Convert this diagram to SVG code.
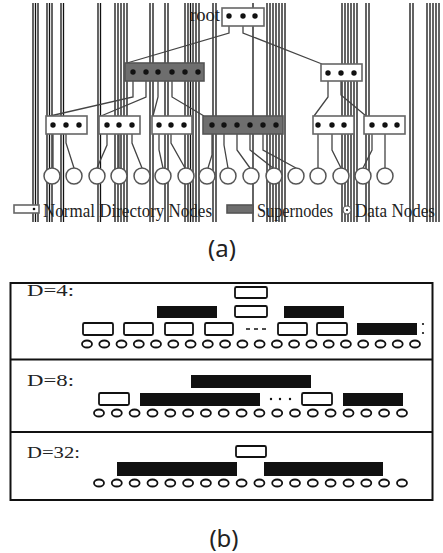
<svg xmlns="http://www.w3.org/2000/svg" width="443" height="553" viewBox="0 0 443 553">
<style>
.stripe{stroke:#111;stroke-width:1.3}
.nn{fill:#fff;stroke:#666;stroke-width:1.6}
.sn{fill:#6e6e6e;stroke:#555;stroke-width:1.6}
.dot{fill:#111}
.dn{fill:#fff;stroke:#555;stroke-width:1.5}
.conn{fill:none;stroke:#444;stroke-width:1.3}
.serif{font-family:"Liberation Serif","Times New Roman",serif;fill:#222}
.cap{font-family:"Noto Sans","DejaVu Sans",sans-serif;font-size:24px;fill:#222}
.wb{fill:#fff;stroke:#111;stroke-width:1.8}
.bb{fill:#111}
.el{fill:none;stroke:#111;stroke-width:1.8}
.frame{fill:none;stroke:#111;stroke-width:2}
</style>
<rect width="443" height="553" fill="#fff"/>
<g id="scan-stripes">
<path class="stripe" d="M33,3V222M35.5,3V222M38,3V222M47,3V222M49.5,3V222M52,3V222M61,3V222M63.5,3V222M98,3V222M100.5,3V222M115,3V222M118,3V222M121,3V222M124,3V222M127,3V222M150,3V222M153,3V222M165,3V222M168,3V222M185,3V222M188,3V222M190.5,3V222M193,3V222M196,3V222M199,3V222M213,3V222M216,3V222M253,3V222M267,3V222M270,3V222M273,3V222M276,3V222M279,3V222M282,3V222M285,3V222M342,3V222M345,3V222M348,3V222M351,3V222M354,3V222M357,3V222M366,3V222M369,3V222M410,3V222M413,3V222M427,3V222M430,3V222M433,3V222M436,3V222M439,3V222"/>
</g>
<g id="connectors">
<path class="conn" d="M229,16V33L127,63M243,16V33L322,64"/>
<path class="conn" d="M133,72V97L50,116M146,72V97L101,116M158,72V97L153,116M172,72V97L204,116"/>
<path class="conn" d="M328,73V97L314,116M341,73V95L366,116"/>
<path class="conn" d="M53,125V168M66,125V143L74,168"/>
<path class="conn" d="M107,125V145L97,168M119,125V168M132,125V143L142,168"/>
<path class="conn" d="M159,125V150L163,168M171,125V143L185,168"/>
<path class="conn" d="M212,125V155L208,168M224,125V145L228,168M237,125V150L250,168M250,125V150L273,168M263,125V150L296,168"/>
<path class="conn" d="M318,125V168M332,125V150L341,168"/>
<path class="conn" d="M372,125V150L363,168M385,125V168"/>
</g>
<g id="root">
<text class="serif" x="190" y="21" font-size="19" textLength="30" lengthAdjust="spacingAndGlyphs">root</text>
<rect class="nn" x="222" y="8" width="42" height="18"/>
<circle class="dot" cx="229" cy="16" r="2.7"/><circle class="dot" cx="243" cy="16" r="2.7"/><circle class="dot" cx="255" cy="16" r="2.7"/>
</g>
<g id="super1">
<rect class="sn" x="125" y="63" width="79" height="18"/>
<circle class="dot" cx="133" cy="72" r="2.7"/><circle class="dot" cx="146" cy="72" r="2.7"/><circle class="dot" cx="158" cy="72" r="2.7"/><circle class="dot" cx="172" cy="72" r="2.7"/><circle class="dot" cx="185" cy="72" r="2.7"/><circle class="dot" cx="198" cy="72" r="2.7"/>
</g>
<g id="dir-right">
<rect class="nn" x="321" y="64" width="41" height="17"/>
<circle class="dot" cx="328" cy="73" r="2.7"/><circle class="dot" cx="341" cy="73" r="2.7"/><circle class="dot" cx="354" cy="73" r="2.7"/>
</g>
<g id="dir1">
<rect class="nn" x="46" y="116" width="41" height="18"/>
<circle class="dot" cx="53" cy="125" r="2.7"/><circle class="dot" cx="66" cy="125" r="2.7"/><circle class="dot" cx="79" cy="125" r="2.7"/>
</g>
<g id="dir2">
<rect class="nn" x="99" y="116" width="41" height="18"/>
<circle class="dot" cx="107" cy="125" r="2.7"/><circle class="dot" cx="119" cy="125" r="2.7"/><circle class="dot" cx="132" cy="125" r="2.7"/>
</g>
<g id="dir3">
<rect class="nn" x="152" y="116" width="40" height="18"/>
<circle class="dot" cx="159" cy="125" r="2.7"/><circle class="dot" cx="171" cy="125" r="2.7"/><circle class="dot" cx="184" cy="125" r="2.7"/>
</g>
<g id="super2">
<rect class="sn" x="203" y="116" width="80" height="18"/>
<circle class="dot" cx="212" cy="125" r="2.7"/><circle class="dot" cx="224" cy="125" r="2.7"/><circle class="dot" cx="237" cy="125" r="2.7"/><circle class="dot" cx="250" cy="125" r="2.7"/><circle class="dot" cx="263" cy="125" r="2.7"/><circle class="dot" cx="276" cy="125" r="2.7"/>
</g>
<g id="dir5">
<rect class="nn" x="313" y="116" width="41" height="18"/>
<circle class="dot" cx="318" cy="125" r="2.7"/><circle class="dot" cx="332" cy="125" r="2.7"/><circle class="dot" cx="344" cy="125" r="2.7"/>
</g>
<g id="dir6">
<rect class="nn" x="364" y="116" width="41" height="18"/>
<circle class="dot" cx="372" cy="125" r="2.7"/><circle class="dot" cx="385" cy="125" r="2.7"/><circle class="dot" cx="397" cy="125" r="2.7"/>
</g>
<g id="data-nodes">
<circle class="dn" cx="52" cy="176" r="8"/><circle class="dn" cx="74" cy="176" r="8"/><circle class="dn" cx="97" cy="176" r="8"/><circle class="dn" cx="119" cy="176" r="8"/><circle class="dn" cx="142" cy="176" r="8"/><circle class="dn" cx="163" cy="176" r="8"/><circle class="dn" cx="186" cy="176" r="8"/><circle class="dn" cx="207" cy="176" r="8"/><circle class="dn" cx="228" cy="176" r="8"/><circle class="dn" cx="251" cy="176" r="8"/><circle class="dn" cx="274" cy="176" r="8"/><circle class="dn" cx="296" cy="176" r="8"/><circle class="dn" cx="318" cy="176" r="8"/><circle class="dn" cx="341" cy="176" r="8"/><circle class="dn" cx="363" cy="176" r="8"/><circle class="dn" cx="385" cy="176" r="8"/>
</g>
<g id="legend">
<rect class="nn" x="14" y="205" width="25" height="8" stroke-width="1.3"/>
<circle class="dot" cx="34" cy="209" r="1.3"/>
<text class="serif" x="43" y="217" font-size="19" textLength="169" lengthAdjust="spacingAndGlyphs">Normal Directory Nodes</text>
<rect class="sn" x="227" y="205" width="26" height="8" stroke-width="1.3"/>
<text class="serif" x="257" y="217" font-size="19" textLength="76" lengthAdjust="spacingAndGlyphs">Supernodes</text>
<circle cx="347" cy="210" r="4" fill="#fff" stroke="#555" stroke-width="1.2"/>
<circle class="dot" cx="347" cy="210" r="1"/>
<text class="serif" x="355" y="217" font-size="18" textLength="80" lengthAdjust="spacingAndGlyphs">Data Nodes</text>
</g>
<text class="cap" x="222" y="257" text-anchor="middle">(a)</text>
<g id="panel-frame">
<rect class="frame" x="10.5" y="283" width="422" height="217"/>
<path class="frame" d="M10.5,359.5H432.5M10.5,432H432.5"/>
</g>
<g id="d4">
<text class="serif" x="27" y="296" font-size="17" textLength="47" lengthAdjust="spacingAndGlyphs">D=4:</text>
<rect class="wb" x="235" y="287" width="32" height="11" rx="1.5"/>
<rect class="wb" x="235" y="306" width="32" height="11" rx="1.5"/>
<rect class="bb" x="157" y="306" width="60" height="12"/>
<rect class="bb" x="284" y="306" width="60" height="12"/>
<rect class="wb" x="83" y="323" width="30" height="12" rx="1.5"/>
<rect class="wb" x="124" y="323" width="29" height="12" rx="1.5"/>
<rect class="wb" x="165" y="323" width="28" height="12" rx="1.5"/>
<rect class="wb" x="205" y="323" width="28" height="12" rx="1.5"/>
<path d="M246,329H267" stroke="#111" stroke-width="1.6" stroke-dasharray="4,4"/>
<rect class="wb" x="278" y="323" width="29" height="12" rx="1.5"/>
<rect class="wb" x="317" y="323" width="30" height="12" rx="1.5"/>
<rect class="bb" x="357" y="323" width="60" height="12"/>
<circle class="dot" cx="423" cy="324" r="1.1"/><circle class="dot" cx="423" cy="333" r="1.1"/>
<g class="el">
<ellipse cx="87" cy="344" rx="5" ry="3.5"/><ellipse cx="104.3" cy="344" rx="5" ry="3.5"/><ellipse cx="121.5" cy="344" rx="5" ry="3.5"/><ellipse cx="138.8" cy="344" rx="5" ry="3.5"/><ellipse cx="156" cy="344" rx="5" ry="3.5"/><ellipse cx="173.3" cy="344" rx="5" ry="3.5"/><ellipse cx="190.6" cy="344" rx="5" ry="3.5"/><ellipse cx="207.8" cy="344" rx="5" ry="3.5"/><ellipse cx="225.1" cy="344" rx="5" ry="3.5"/><ellipse cx="242.4" cy="344" rx="5" ry="3.5"/><ellipse cx="259.6" cy="344" rx="5" ry="3.5"/><ellipse cx="276.9" cy="344" rx="5" ry="3.5"/><ellipse cx="294.1" cy="344" rx="5" ry="3.5"/><ellipse cx="311.4" cy="344" rx="5" ry="3.5"/><ellipse cx="328.7" cy="344" rx="5" ry="3.5"/><ellipse cx="345.9" cy="344" rx="5" ry="3.5"/><ellipse cx="363.2" cy="344" rx="5" ry="3.5"/><ellipse cx="380.5" cy="344" rx="5" ry="3.5"/><ellipse cx="397.7" cy="344" rx="5" ry="3.5"/><ellipse cx="415" cy="344" rx="5" ry="3.5"/>
</g>
</g>
<g id="d8">
<text class="serif" x="27" y="386" font-size="17" textLength="47" lengthAdjust="spacingAndGlyphs">D=8:</text>
<rect class="bb" x="191" y="375" width="120" height="13"/>
<rect class="wb" x="99" y="393" width="30" height="12" rx="1.5"/>
<rect class="bb" x="140" y="393" width="120" height="13"/>
<circle class="dot" cx="271" cy="399" r="1.2"/><circle class="dot" cx="280" cy="399" r="1.2"/><circle class="dot" cx="290" cy="399" r="1.2"/>
<rect class="wb" x="302" y="393" width="30" height="12" rx="1.5"/>
<rect class="bb" x="343" y="393" width="60" height="13"/>
<g class="el">
<ellipse cx="99" cy="413" rx="5" ry="3.5"/><ellipse cx="116.8" cy="413" rx="5" ry="3.5"/><ellipse cx="134.6" cy="413" rx="5" ry="3.5"/><ellipse cx="152.5" cy="413" rx="5" ry="3.5"/><ellipse cx="170.3" cy="413" rx="5" ry="3.5"/><ellipse cx="188.1" cy="413" rx="5" ry="3.5"/><ellipse cx="205.9" cy="413" rx="5" ry="3.5"/><ellipse cx="223.7" cy="413" rx="5" ry="3.5"/><ellipse cx="241.6" cy="413" rx="5" ry="3.5"/><ellipse cx="259.4" cy="413" rx="5" ry="3.5"/><ellipse cx="277.2" cy="413" rx="5" ry="3.5"/><ellipse cx="295" cy="413" rx="5" ry="3.5"/><ellipse cx="312.8" cy="413" rx="5" ry="3.5"/><ellipse cx="330.6" cy="413" rx="5" ry="3.5"/><ellipse cx="348.5" cy="413" rx="5" ry="3.5"/><ellipse cx="366.3" cy="413" rx="5" ry="3.5"/><ellipse cx="384.1" cy="413" rx="5" ry="3.5"/><ellipse cx="402" cy="413" rx="5" ry="3.5"/>
</g>
</g>
<g id="d32">
<text class="serif" x="27" y="458" font-size="17" textLength="53" lengthAdjust="spacingAndGlyphs">D=32:</text>
<rect class="wb" x="236" y="446" width="30" height="11" rx="1.5"/>
<rect class="bb" x="117" y="462" width="120" height="14"/>
<rect class="bb" x="264" y="462" width="119" height="14"/>
<g class="el">
<ellipse cx="99" cy="483" rx="5" ry="3.5"/><ellipse cx="116.8" cy="483" rx="5" ry="3.5"/><ellipse cx="134.6" cy="483" rx="5" ry="3.5"/><ellipse cx="152.5" cy="483" rx="5" ry="3.5"/><ellipse cx="170.3" cy="483" rx="5" ry="3.5"/><ellipse cx="188.1" cy="483" rx="5" ry="3.5"/><ellipse cx="205.9" cy="483" rx="5" ry="3.5"/><ellipse cx="223.7" cy="483" rx="5" ry="3.5"/><ellipse cx="241.6" cy="483" rx="5" ry="3.5"/><ellipse cx="259.4" cy="483" rx="5" ry="3.5"/><ellipse cx="277.2" cy="483" rx="5" ry="3.5"/><ellipse cx="295" cy="483" rx="5" ry="3.5"/><ellipse cx="312.8" cy="483" rx="5" ry="3.5"/><ellipse cx="330.6" cy="483" rx="5" ry="3.5"/><ellipse cx="348.5" cy="483" rx="5" ry="3.5"/><ellipse cx="366.3" cy="483" rx="5" ry="3.5"/><ellipse cx="384.1" cy="483" rx="5" ry="3.5"/><ellipse cx="402" cy="483" rx="5" ry="3.5"/>
</g>
</g>
<text class="cap" x="224" y="547" text-anchor="middle">(b)</text>
</svg>
